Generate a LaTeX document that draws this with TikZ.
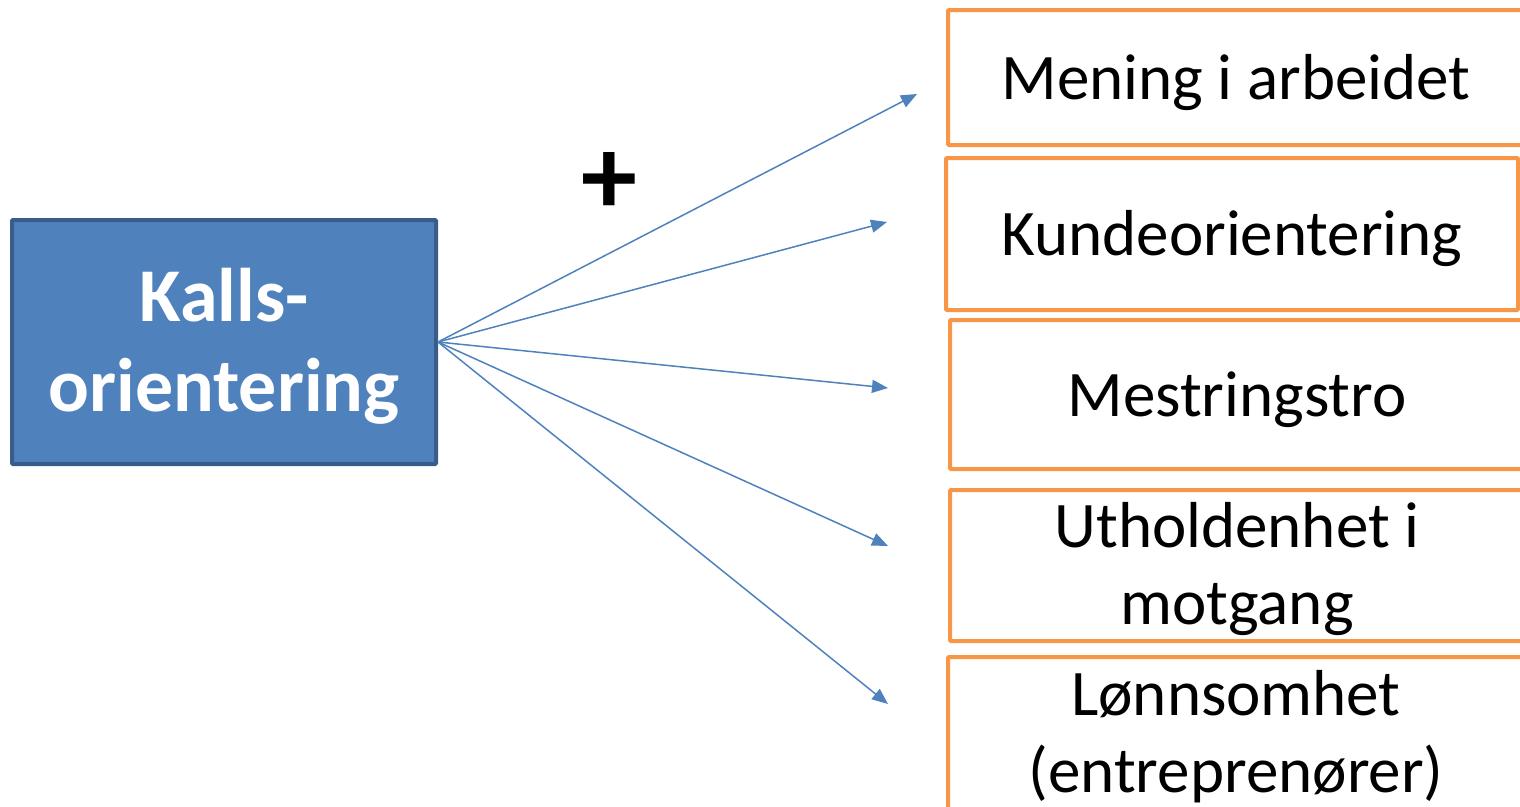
\documentclass[tikz,border=0pt]{standalone}
\usepackage{fontspec}
\setmainfont{Carlito}
\usetikzlibrary{arrows.meta}
\definecolor{accblue}{HTML}{4F81BD}
\definecolor{accblueD}{HTML}{385D8A}
\definecolor{accorange}{HTML}{F79646}
\tikzset{
  mainbox/.style={draw=accblueD, line width=4pt, fill=accblue, rounded corners=1pt, inner sep=0pt},
  maintext/.style={text=white, font=\fontsize{76}{90}\selectfont\bfseries, align=center, inner sep=0pt},
  outbox/.style={draw=accorange, line width=4pt, rounded corners=1pt, fill=white, inner sep=0pt},
  outtext/.style={font=\fontsize{65}{77}\selectfont, align=center, inner sep=0pt},
  conn/.style={draw=accblue, line width=1.5pt, -{Triangle[length=16pt,width=13pt]}}
}
\begin{document}
\begin{tikzpicture}[x=1pt,y=-1pt]
\useasboundingbox (0,0) rectangle (1520,806);
\node[mainbox, minimum width=424pt, minimum height=244pt] (kall) at (224,342) {};
\node[maintext] (kallt) at ([yshift=-4pt]kall.center) {Kalls-\\orientering};
\node[outbox, minimum width=576pt, minimum height=135pt] (b1) at (1236,77.5) {};
\node[outbox, minimum width=572pt, minimum height=152pt] (b2) at (1232,234) {};
\node[outbox, minimum width=574pt, minimum height=149pt] (b3) at (1237,394.5) {};
\node[outbox, minimum width=574pt, minimum height=151pt] (b4) at (1237,565.5) {};
\node[outbox, minimum width=576pt, minimum height=164pt] (b5) at (1236,739) {};
\node[outtext] (t1) at ([yshift=-5pt]b1.center) {Mening i arbeidet};
\node[outtext] (t2) at ([yshift=-5pt]b2.center) {Kundeorientering};
\node[outtext] (t3) at ([yshift=-5pt]b3.center) {Mestringstro};
\node[outtext] (t4) at ([yshift=-4pt]b4.center) {Utholdenhet i\\motgang};
\node[outtext] (t5) at ([yshift=2pt]b5.center) {Lønnsomhet\\(entreprenører)};
\node[font=\fontsize{112}{112}\selectfont\bfseries] (plus) at (609,183) {+};
\coordinate (e1) at (917,94);
\coordinate (e2) at (887,222);
\coordinate (e3) at (888,388);
\coordinate (e4) at (888,546);
\coordinate (e5) at (888,704);
\foreach \i in {1,...,5} \draw[conn] (kall.east) -- (e\i);
\end{tikzpicture}
\end{document}
